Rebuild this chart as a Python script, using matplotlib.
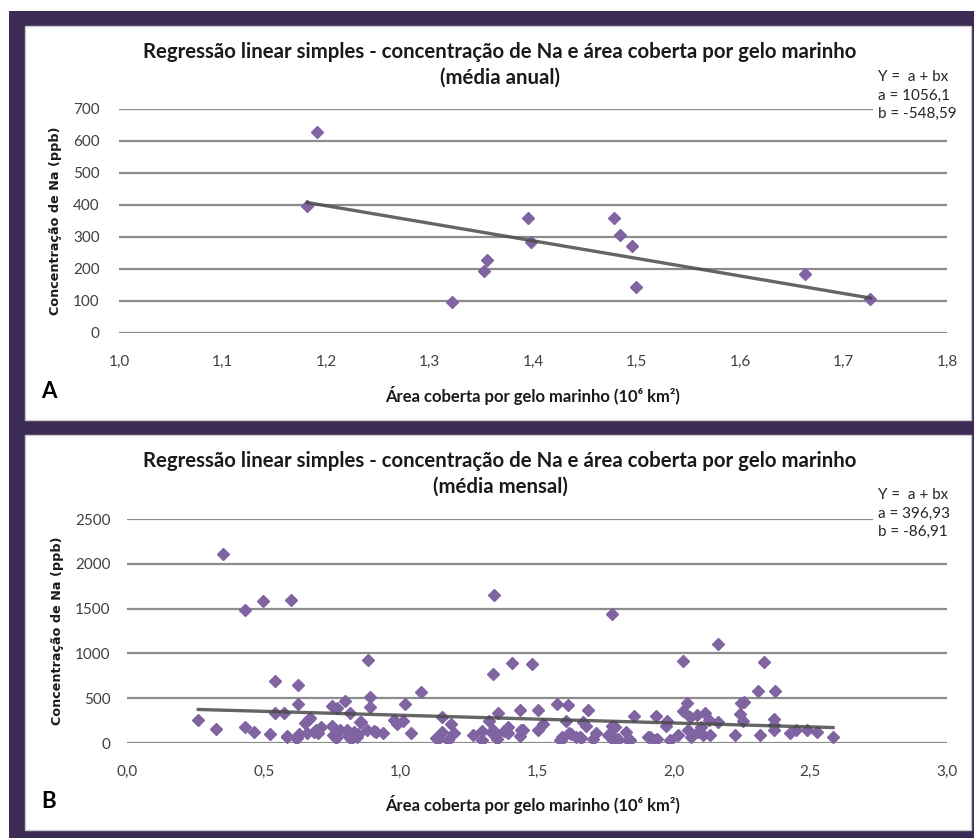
import numpy as np
import matplotlib.pyplot as plt
from matplotlib.patches import Rectangle

# Painel A - media anual
area_anual = [1.191, 1.182, 1.322, 1.353, 1.356, 1.395, 1.398, 1.478, 1.484,
              1.496, 1.4995, 1.663, 1.726]
na_anual = [627, 398, 97, 194, 227, 358, 283, 358, 307, 271, 145, 184, 105]
a_anual, b_anual = 1056.1, -548.59

# Painel B - media mensal
area_mensal = [
    0.352, 0.433, 0.498, 0.599, 1.342, 1.776, 2.162, 0.882, 2.035, 2.332, 1.408, 1.483, 1.340,
    0.543, 0.627, 1.074, 2.309, 2.372, 0.890, 0.797, 0.627, 1.016, 0.751, 0.888, 1.575, 1.612,
    1.686, 1.439, 1.503, 2.050, 2.245, 2.256, 2.035,
    0.768, 0.543, 0.574, 0.815, 1.357, 1.154, 1.854, 1.934, 2.061, 2.087, 2.115, 2.242, 2.366,
    0.670, 0.975, 1.008, 1.324, 1.605, 1.668,
    0.261, 0.650, 0.854, 0.986, 1.185, 1.522, 1.680, 1.971, 1.977, 2.129, 2.162, 2.253, 2.366,
    0.751, 0.710, 0.856, 1.784, 1.773, 2.101, 0.664,
    0.324, 0.432, 0.464, 0.658, 0.685, 0.692, 0.805, 0.829, 0.879, 0.910, 0.936, 1.039, 1.151,
    1.197, 1.297, 1.334, 1.394, 1.394, 1.443, 1.339, 1.504, 1.448, 1.617, 1.717, 1.827, 2.052,
    2.089, 2.366, 2.427, 2.449, 2.488, 2.524, 1.378, 1.625, 0.903, 0.631, 1.766, 2.223,
    0.523, 0.587, 0.619, 0.754, 0.766, 0.809, 0.842, 1.130, 1.173, 1.266, 1.300, 1.352, 1.439,
    1.351, 1.583, 1.593, 1.644, 1.662, 1.705, 1.760, 1.778, 1.790, 1.833, 1.906, 1.930, 1.985,
    2.016, 2.065, 2.107, 2.132, 2.317, 2.583, 0.621, 0.587, 0.762, 0.820, 0.845, 1.136, 1.913,
    1.938, 1.840, 1.797, 1.656, 1.589, 0.700, 0.780,
]
na_mensal = [
    2104, 1485, 1589, 1596, 1652, 1443, 1103, 921, 920, 902, 889, 877, 774,
    690, 645, 568, 579, 585, 513, 470, 433, 430, 418, 405, 433, 422,
    372, 368, 366, 448, 452, 460, 355,
    386, 336, 336, 332, 336, 290, 303, 303, 292, 318, 340, 329, 273,
    278, 262, 246, 246, 250, 235,
    261, 228, 231, 216, 216, 217, 191, 187, 247, 254, 235, 247, 198,
    194, 179, 235, 179, 187, 179, 254,
    153, 175, 127, 112, 123, 150, 149, 123, 142, 123, 112, 112, 123,
    112, 131, 112, 179, 112, 142, 142, 142, 150, 112, 112, 123, 142,
    123, 142, 112, 142, 142, 123, 134, 105, 134, 104, 105, 93,
    97, 75, 56, 86, 56, 75, 67, 56, 30, 86, 30, 48, 82,
    86, 37, 67, 67, 56, 49, 93, 30, 11, 30, 67, 30, 37,
    86, 67, 86, 86, 86, 67, 56, 67, 85, 45, 95, 49, 67,
    41, 30, 49, 67, 38, 110, 140,
]
a_mensal, b_mensal = 396.93, -86.91

roxo = '#8064a2'
W, H = 974, 838
fonte = ['Lato', 'DejaVu Sans']
plt.rcParams['font.family'] = fonte

fig = plt.figure(figsize=(W / 100, H / 100), dpi=100)


def fx(px):
    return px / W


def fy(py):
    return 1 - py / H


# moldura roxa e paineis brancos
fig.patches.append(Rectangle((fx(9), 0), 1, fy(11), transform=fig.transFigure,
                             facecolor='#3c2b54', edgecolor='none', zorder=0))
for top, bottom in [(26, 420), (435, 830)]:
    fig.patches.append(Rectangle((fx(25), fy(bottom)), fx(971 - 25), (bottom - top) / H,
                                 transform=fig.transFigure, facecolor='white',
                                 edgecolor='#c8c8c8', lw=1, zorder=1))


def painel(rect, x, y, a, b, xlim, ylim, yticks, xticks, titulo, top, letra, coef, ypad):
    ax = fig.add_axes(rect, zorder=3)
    ax.set_facecolor('none')
    ax.plot(x, y, linestyle='none', marker='D', ms=6.2, color=roxo, mec=roxo, zorder=3)
    xs = np.array([min(x), max(x)])
    ax.plot(xs, a + b * xs, color='#4a4a4a', lw=2.4, alpha=0.85, zorder=4)
    ax.set_xlim(*xlim)
    ax.set_ylim(*ylim)
    ax.set_yticks(yticks)
    ax.set_xticks(xticks)
    ax.set_xticklabels([f'{t:.1f}'.replace('.', ',') for t in xticks])
    ax.grid(axis='y', color='#8c8c8c', lw=1.6)
    ax.set_axisbelow(True)
    for s in ax.spines.values():
        s.set_visible(False)
    ax.tick_params(length=0, labelsize=11, labelcolor='#404040')
    ax.tick_params(axis='y', pad=ypad)
    ax.tick_params(axis='x', pad=16)
    ax.set_ylabel('Concentração de Na (ppb)', family='DejaVu Sans', fontweight='bold',
                  fontsize=9.2, color='#1a1a1a', labelpad=8)

    fig.text(fx(500), fy(top + 26), 'Regressão linear simples - concentração de Na e área coberta por gelo marinho',
             ha='center', va='center', fontsize=14.7, fontweight='bold', color='#1a1a1a', zorder=5)
    fig.text(fx(500), fy(top + 52), titulo, ha='center', va='center',
             fontsize=14.7, fontweight='bold', color='#1a1a1a', zorder=5)
    fig.text(fx(533), fy(top + 369), 'Área coberta por gelo marinho (10⁶ km²)',
             ha='center', va='center', fontsize=12, fontweight='bold', color='#1a1a1a', zorder=5)
    fig.text(fx(41), fy(top + 366), letra, ha='left', va='center', fontsize=16,
             fontweight='bold', color='black', zorder=5)
    fig.text(fx(878), fy(coef[0]), 'Y =  a + bx\n' + coef[1], ha='left', va='top',
             fontsize=11, color='#262626', linespacing=1.4, zorder=5,
             bbox=dict(facecolor='white', edgecolor='none', pad=4))
    return ax


painel([fx(119), fy(333), fx(947 - 119), 224 / H], area_anual, na_anual, a_anual, b_anual,
       (1.0, 1.8), (0, 700), np.arange(0, 701, 100), np.arange(1.0, 1.81, 0.1),
       '(média anual)', 26, 'A', (70, 'a = 1056,1\nb = -548,59'), 14)

painel([fx(127), fy(743), fx(947 - 127), 224 / H], area_mensal, na_mensal, a_mensal, b_mensal,
       (0.0, 3.0), (0, 2500), np.arange(0, 2501, 500), np.arange(0.0, 3.01, 0.5),
       '(média mensal)', 435, 'B', (488, 'a = 396,93\nb = -86,91'), 12)

fig.savefig('out.png', dpi=100)
